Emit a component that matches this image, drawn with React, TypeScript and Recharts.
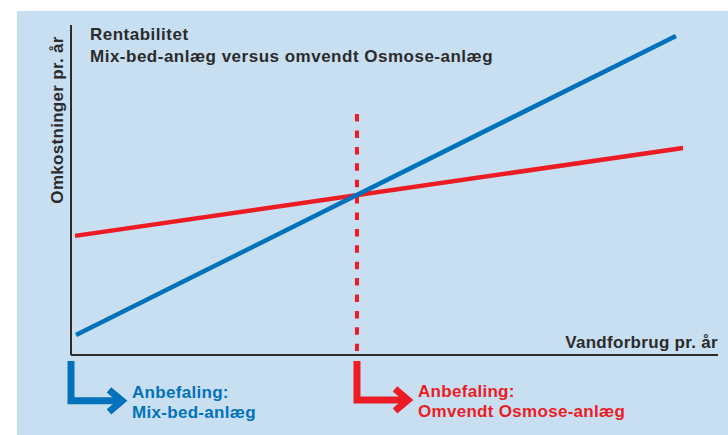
import React from "react";
import {
  ComposedChart,
  Line,
  XAxis,
  YAxis,
  ReferenceLine,
  Customized,
} from "recharts";

// ---- data (arbitrary 0-100 units) ----
const mixBedX = [0.77, 93.5];
const mixBedCost = [6.06, 96.7];
const osmoseX = [0.62, 94.6];
const osmoseCost = [36.1, 62.7];
const breakEvenX = 44.2;
const breakEvenTop = 73.0;
const breakEvenBottom = 1.2;

const titleLines = ["Rentabilitet", "Mix-bed-anlæg versus omvendt Osmose-anlæg"];
const yAxisLabel = "Omkostninger pr. år";
const xAxisLabel = "Vandforbrug pr. år";
const mixBedRecommendation = ["Anbefaling:", "Mix-bed-anlæg"];
const osmoseRecommendation = ["Anbefaling:", "Omvendt Osmose-anlæg"];

const mixBedData = mixBedX.map((x, i) => ({ x, y: mixBedCost[i] }));
const osmoseData = osmoseX.map((x, i) => ({ x, y: osmoseCost[i] }));

const BLUE = "#0072bc";
const RED = "#ed1c24";
const DARK = "#2b2b2b";
const FONT = "'Liberation Sans', Arial, Helvetica, sans-serif";

const textStyle = {
  fontFamily: FONT,
  fontWeight: 700,
  fontSize: 17,
  letterSpacing: 0.3,
};
const titleStyle = { ...textStyle, letterSpacing: 0.5 };

const makeArrow = (color: string, lines: string[]) => (props: any) => {
  const { x1, y1, y2 } = props;
  const x = x1;
  const top = Math.min(y1, y2);
  const bottom = Math.max(y1, y2);
  const tip = x + 51;
  return (
    <g>
      <path
        d={`M${x},${top} V${bottom} H${tip - 3}`}
        fill="none"
        stroke={color}
        strokeWidth={7}
        strokeLinejoin="miter"
      />
      <polyline
        points={`${tip - 13},${bottom - 11} ${tip},${bottom} ${tip - 13},${bottom + 11}`}
        fill="none"
        stroke={color}
        strokeWidth={7}
        strokeLinejoin="miter"
        strokeMiterlimit={10}
      />
      <text x={x + 61} y={bottom - 3} fill={color} style={textStyle}>
        {lines[0]}
      </text>
      <text x={x + 61} y={bottom + 17} fill={color} style={textStyle}>
        {lines[1]}
      </text>
    </g>
  );
};

const Titles = () => (
  <g>
    <text x={90} y={39.5} fill={DARK} style={titleStyle}>
      {titleLines[0]}
    </text>
    <text x={90} y={62} fill={DARK} style={titleStyle}>
      {titleLines[1]}
    </text>
    <text
      x={62.5}
      y={120}
      fill={DARK}
      textAnchor="middle"
      transform="rotate(-90, 62.5, 120)"
      style={textStyle}
    >
      {yAxisLabel}
    </text>
    <text x={718} y={348} fill={DARK} textAnchor="end" style={textStyle}>
      {xAxisLabel}
    </text>
  </g>
);

export default function App() {
  return (
    <div
      style={{
        position: "absolute",
        left: 0,
        top: 0,
        width: 728,
        height: 435,
        background: "#ffffff",
        overflow: "hidden",
      }}
    >
      <div
        style={{
          position: "absolute",
          left: 17,
          top: 11,
          right: 0,
          bottom: 0,
          background: "#c8dff2",
        }}
      />
      <div style={{ position: "absolute", left: 0, top: 0 }}>
        <ComposedChart
          width={728}
          height={435}
          margin={{ top: 25, right: 10, bottom: 80, left: 71 }}
        >
          <XAxis
            type="number"
            dataKey="x"
            domain={[0, 100]}
            hide
            allowDataOverflow
          />
          <YAxis type="number" domain={[0, 100]} hide allowDataOverflow />
          {/* axis lines */}
          <ReferenceLine
            segment={[
              { x: 0, y: 0 },
              { x: 0, y: 100 },
            ]}
            stroke={DARK}
            strokeWidth={2}
            ifOverflow="visible"
          />
          <ReferenceLine
            segment={[
              { x: 0, y: 0 },
              { x: 100, y: 0 },
            ]}
            stroke={DARK}
            strokeWidth={2}
            ifOverflow="visible"
          />
          {/* break-even dashed line */}
          <ReferenceLine
            segment={[
              { x: breakEvenX, y: breakEvenTop },
              { x: breakEvenX, y: breakEvenBottom },
            ]}
            stroke={RED}
            strokeWidth={4}
            strokeDasharray="7.5 8.9"
            ifOverflow="visible"
          />
          <Line
            data={osmoseData}
            dataKey="y"
            stroke={RED}
            strokeWidth={4.5}
            dot={false}
            activeDot={false}
            isAnimationActive={false}
            type="linear"
          />
          <Line
            data={mixBedData}
            dataKey="y"
            stroke={BLUE}
            strokeWidth={4.5}
            dot={false}
            activeDot={false}
            isAnimationActive={false}
            type="linear"
          />
          {/* recommendation arrows */}
          <ReferenceLine
            segment={[
              { x: 0, y: -1.8 },
              { x: 0, y: -13.9 },
            ]}
            ifOverflow="visible"
            shape={makeArrow(BLUE, mixBedRecommendation)}
          />
          <ReferenceLine
            segment={[
              { x: breakEvenX, y: -1.8 },
              { x: breakEvenX, y: -13.6 },
            ]}
            ifOverflow="visible"
            shape={makeArrow(RED, osmoseRecommendation)}
          />
          <Customized component={Titles} />
        </ComposedChart>
      </div>
    </div>
  );
}
